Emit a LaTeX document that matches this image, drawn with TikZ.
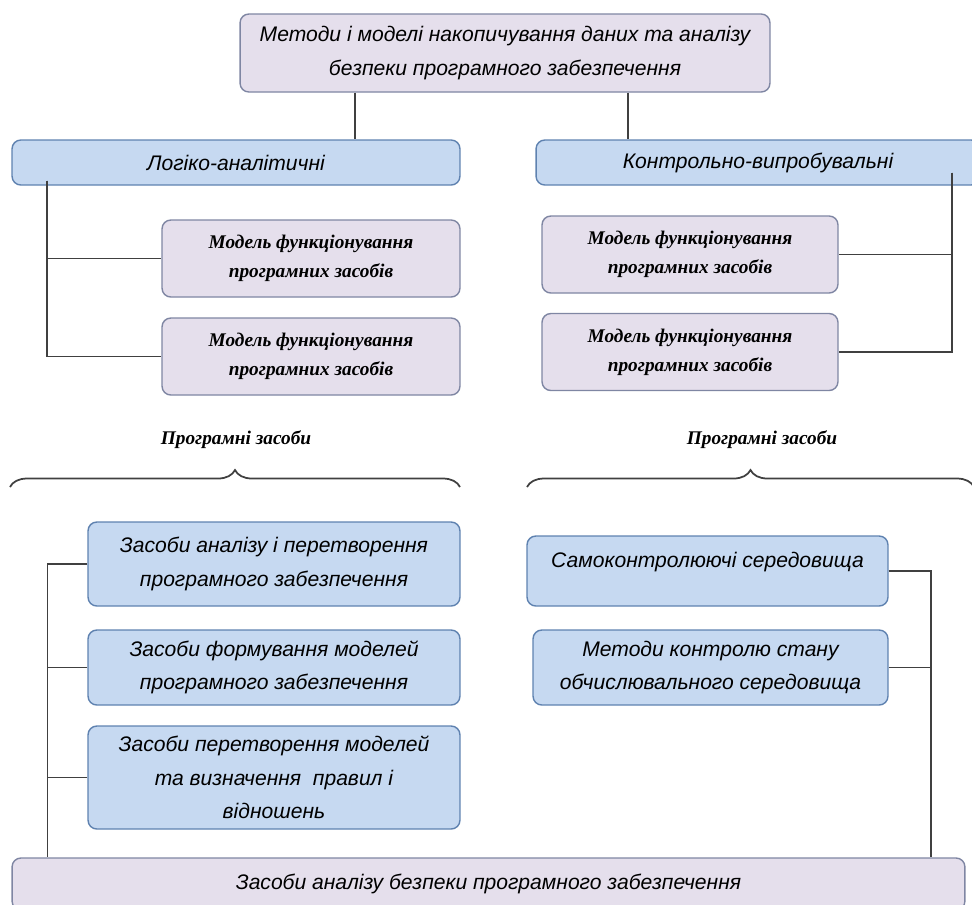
\documentclass[tikz,border=0pt]{standalone}
\usepackage{fontspec}
\setmainfont{Liberation Sans}
\newfontfamily\modelfont{Liberation Serif}
\usepackage{xcolor}
\usepackage{tikz}
\usetikzlibrary{decorations.pathreplacing}

\definecolor{lavfill}{HTML}{E5DFEC}
\definecolor{lavline}{HTML}{7F86A3}
\definecolor{blufill}{HTML}{C6D9F1}
\definecolor{bluline}{HTML}{5F82B0}
\definecolor{wire}{HTML}{404040}

\begin{document}
\begin{tikzpicture}[
  x=0.02cm, y=-0.02cm,
  font=\fontsize{12}{19}\selectfont\itshape,
  comp/.style={rounded corners=5pt, draw, line width=0.8pt, align=center,
               inner sep=2pt},
  lav/.style={comp, draw=lavline, fill=lavfill},
  blu/.style={comp, draw=bluline, fill=blufill},
  mdl/.style={lav, minimum height=1.54cm,
              font=\modelfont\fontsize{11}{16.5}\selectfont\bfseries\itshape},
  el/.style={font=\modelfont\fontsize{11}{13}\selectfont\bfseries\itshape, inner sep=1pt},
  ln/.style={draw=wire, line width=1pt},
  br/.style={ln, decorate, decoration={brace, amplitude=0.34cm, aspect=0.5}},
]
\useasboundingbox (0,0) rectangle (972,904);

% --- top and the two groups ---------------------------------------------
\node[lav, minimum width=10.6cm, minimum height=1.56cm] (top) at (505,53)
     {Методи і моделі накопичування даних та аналізу\\безпеки програмного забезпечення};
\node[blu, minimum width=8.96cm, minimum height=0.9cm] (logic) at (236,162.5)
     {Логіко-аналітичні};
\node[blu, minimum width=8.88cm, minimum height=0.9cm] (ctrl) at (758,162.5)
     {Контрольно-випробувальні};

\draw[ln] ([xshift=-3cm]top.south) -- ([xshift=-3cm]top.south |- logic.north);
\draw[ln] ([xshift=2.46cm]top.south) -- ([xshift=2.46cm]top.south |- ctrl.north);

% --- models ---------------------------------------------------------------
\node[mdl, minimum width=5.96cm] (lm1) at (311,258.5)
     {Модель функціонування\\програмних засобів};
\node[mdl, minimum width=5.96cm] (lm2) at (311,356.5)
     {Модель функціонування\\програмних засобів};
\node[mdl, minimum width=5.92cm] (rm1) at (690,254.5)
     {Модель функціонування\\програмних засобів};
\node[mdl, minimum width=5.92cm] (rm2) at (690,352)
     {Модель функціонування\\програмних засобів};

\coordinate (lt) at ([xshift=0.72cm, yshift=0.1cm]logic.south west);
\draw[ln] (lt) |- (lm1.west);
\draw[ln] (lt) |- (lm2.west);
\coordinate (rt) at ([xshift=8.34cm, yshift=0.26cm]ctrl.south west);
\draw[ln] (rt) |- (rm1.east);
\draw[ln] (rt) |- (rm2.east);

% --- braces with their labels --------------------------------------------
\node[el] (ltools) at (236,440) {Програмні засоби};
\node[el] (rtools) at (762,440) {Програмні засоби};
\coordinate (lbA) at (10,487);  \coordinate (lbB) at (460,487);
\coordinate (rbA) at (527,487); \coordinate (rbB) at (974,487);
\draw[br] (lbA) -- (lbB);
\draw[br] (rbA) -- (rbB);

% --- tools ----------------------------------------------------------------
\node[blu, minimum width=7.44cm, minimum height=1.68cm] (lb1) at (274,564)
     {Засоби аналізу і перетворення\\програмного забезпечення};
\node[blu, minimum width=7.44cm, minimum height=1.5cm] (lb2) at (274,667.5)
     {Засоби формування моделей\\програмного забезпечення};
\node[blu, minimum width=7.44cm, minimum height=2.06cm] (lb3) at (274,777.5)
     {Засоби перетворення моделей\\та визначення \ правил і\\відношень};
\node[blu, minimum width=7.22cm, minimum height=1.4cm] (rb1) at (707.5,571)
     {Самоконтролюючі середовища\\[-6pt]\mbox{}};
\node[blu, minimum width=7.1cm, minimum height=1.5cm] (rb2) at (710.5,667.5)
     {Методи контролю стану\\обчислювального середовища};

% --- result ---------------------------------------------------------------
\node[lav, minimum width=19.06cm, minimum height=1.04cm] (bot) at (488.5,884)
     {Засоби аналізу безпеки програмного забезпечення};

\coordinate (lj) at ([xshift=0.72cm]bot.north west);
\draw[ln] (lb1.west) -| (lj);
\draw[ln] (lb2.west) -- (lb2.west -| lj);
\draw[ln] (lb3.west) -- (lb3.west -| lj);
\coordinate (rj) at ([xshift=18.4cm]bot.north west);
\draw[ln] (rb1.east) -| (rj);
\draw[ln] (rb2.east) -- (rb2.east -| rj);
\end{tikzpicture}
\end{document}
